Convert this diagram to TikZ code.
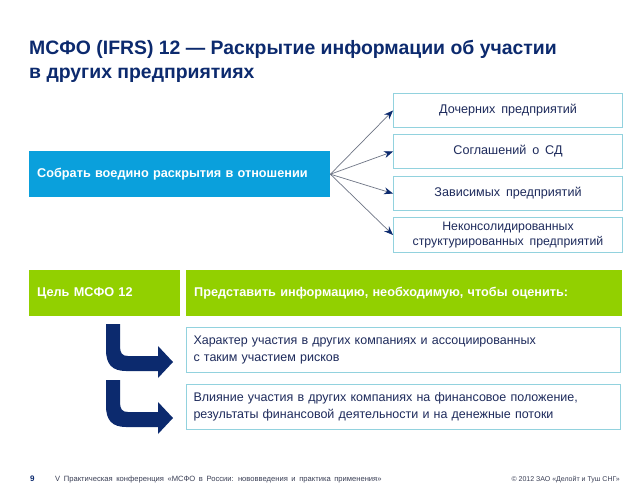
\documentclass[tikz,border=0pt]{standalone}
\usepackage{fontspec}
\setmainfont{Liberation Sans}
\newfontfamily\wide{Liberation Sans}[WordSpace=1.7]
\usetikzlibrary{arrows.meta,positioning}
\definecolor{navy}{HTML}{0C2A6E}
\definecolor{txtnavy}{HTML}{1E2B5C}
\definecolor{cblue}{HTML}{0AA0DC}
\definecolor{cgreen}{HTML}{92D000}
\definecolor{cborder}{HTML}{92D2DE}
\definecolor{cline}{HTML}{6E7585}
\definecolor{foot}{HTML}{3A3F55}
\tikzset{
  rbox/.style={draw=cborder, line width=1pt, fill=white, minimum width=229pt, anchor=north west,
    text=txtnavy, font=\wide\fontsize{12.6}{15}\selectfont, align=center, inner sep=0pt},
  bluebox/.style={fill=cblue, text=white, font=\wide\bfseries\fontsize{12.7}{15}\selectfont,
    text width=285pt, inner xsep=8pt, inner ysep=0pt, minimum height=46pt, align=left, anchor=north west},
  greenbox/.style={fill=cgreen, text=white, font=\wide\bfseries\fontsize{12.7}{15}\selectfont,
    inner xsep=8pt, inner ysep=0pt, minimum height=46pt, align=left, anchor=north west},
  lbox/.style={draw=cborder, line width=1pt, fill=white, text=txtnavy,
    font=\wide\fontsize{12.5}{16.5}\selectfont, text width=420pt, inner xsep=7pt, inner ysep=0pt,
    minimum height=45pt, align=left, anchor=north west},
  conn/.style={draw=cline, line width=0.7pt, -{Stealth[length=9pt,width=7pt,color=navy]}},
  bentarrow/.style={fill=navy, draw=none},
}
\begin{document}
\begin{tikzpicture}[x=1pt,y=-1pt]
\useasboundingbox (0,0) rectangle (640,495);
\fill[white] (0,0) rectangle (640,495);
% title
\node[anchor=north west, text=navy, font=\bfseries\fontsize{19.4}{24}\selectfont, align=left, inner sep=0pt] (title) at (29,40)
  {МСФО (IFRS) 12 — Раскрытие информации об участии\\в других предприятиях};
% blue box
\node[bluebox] (src) at (29,151) {Собрать воедино раскрытия в отношении};
% right boxes
\node[rbox, minimum height=34pt] (d1) at (393,93) {Дочерних предприятий};
\node[rbox, minimum height=34pt] (d2) at (393,134) {Соглашений о СД};
\node[rbox, minimum height=34pt] (d3) at (393,176) {Зависимых предприятий};
\node[rbox, minimum height=35pt, font=\wide\fontsize{12.3}{15.5}\selectfont] (d4) at (393,217) {Неконсолидированных\\структурированных предприятий};
\foreach \d in {d1,d2,d3,d4} \draw[conn] (src.east) -- (\d.west);
% green row
\node[greenbox, text width=135pt] (g1) at (29,270) {Цель МСФО 12};
\node[greenbox, text width=420pt] (g2) at (186,270) {Представить информацию, необходимую, чтобы оценить:};
% lower boxes
\node[lbox] (l1) at (186,327) {Характер участия в других компаниях и ассоциированных\\с таким участием рисков};
\node[lbox] (l2) at (186,384) {Влияние участия в других компаниях на финансовое положение,\\результаты финансовой деятельности и на денежные потоки};
% bent arrows
\foreach \dy in {0,56}{
  \begin{scope}[yshift=-\dy pt]
  \fill[bentarrow] (106,324) -- (106,350) .. controls (106,364) and (112,371) .. (126,371)
    -- (158,371) -- (158,378) -- (173,362) -- (158,346) -- (158,356)
    -- (128,356) .. controls (122,356) and (120,353) .. (120,346) -- (120,324) -- cycle;
  \end{scope}
}
% footer
\node[anchor=base west, text=navy, font=\bfseries\fontsize{8}{9}\selectfont, inner sep=0pt] (pg) at (30,481) {9};
\node[anchor=base west, text=foot, font=\wide\fontsize{7.6}{9}\selectfont, inner sep=0pt] (ft) at (55,481)
  {V Практическая конференция «МСФО в России: нововведения и практика применения»};
\node[anchor=base east, text=foot, font=\fontsize{7}{9}\selectfont, inner sep=0pt] (cp) at (620,481)
  {© 2012 ЗАО «Делойт и Туш СНГ»};
\end{tikzpicture}
\end{document}
